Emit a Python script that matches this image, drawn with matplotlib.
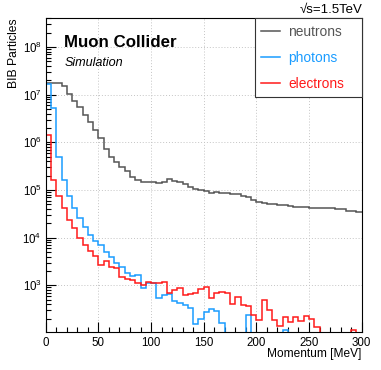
import matplotlib
matplotlib.use("Agg")
import matplotlib.pyplot as plt
from matplotlib.lines import Line2D
from matplotlib.ticker import FixedLocator, LogLocator, MultipleLocator, FuncFormatter, NullFormatter
import numpy as np

plt.rcParams['font.family'] = ['Liberation Sans', 'DejaVu Sans']
plt.rcParams['mathtext.fontset'] = 'custom'
plt.rcParams['mathtext.rm'] = 'Liberation Sans'

# 60 bins of 5 MeV, 0-300 MeV
bin_edges = np.arange(0, 301, 5)

neutrons = [1.74e7, 1.74e7, 1.74e7, 1.49e7, 1.03e7, 7.45e6, 5.5e6, 3.8e6, 2.66e6, 1.77e6,
            1.23e6, 7.3e5, 5.0e5, 3.95e5, 3.0e5, 2.44e5, 1.91e5, 1.63e5, 1.5e5, 1.48e5,
            1.46e5, 1.38e5, 1.5e5, 1.73e5, 1.53e5, 1.46e5, 1.32e5, 1.18e5, 1.05e5, 9.9e4,
            9.4e4, 8.8e4, 9.1e4, 8.8e4, 8.7e4, 8.4e4, 8.3e4, 7.3e4, 7.0e4, 6.1e4,
            5.6e4, 5.4e4, 5.1e4, 5.1e4, 4.9e4, 4.8e4, 4.6e4, 4.4e4, 4.4e4, 4.4e4,
            4.2e4, 4.1e4, 4.1e4, 4.1e4, 4.1e4, 3.9e4, 3.9e4, 3.7e4, 3.7e4, 3.4e4]

photons = [1.69e7, 5.2e6, 4.9e5, 1.61e5, 7.3e4, 4.2e4, 2.53e4, 1.64e4, 1.14e4, 8.3e3,
           6.85e3, 5.0e3, 4.0e3, 3.0e3, 2.37e3, 1.81e3, 1.53e3, 1.64e3, 865, 1100,
           1100, 533, 626, 660, 470, 420, 385, 330, 151, 200,
           280, 310, 285, 159, 0, 0, 0, 0, 238, 0,
           0, 0, 0, 0, 0, 115, 0, 0, 0, 0,
           0, 0, 0, 0, 0, 0, 0, 0, 0, 0]

electrons = [1.39e6, 1.63e5, 7.5e4, 4.2e4, 2.39e4, 1.57e4, 9.7e3, 7.0e3, 5.2e3, 4.1e3,
             2.7e3, 3.16e3, 2.39e3, 2.25e3, 1.46e3, 1.34e3, 1.26e3, 1.12e3, 1.01e3, 1.16e3,
             1.1e3, 1.1e3, 1.17e3, 689, 796, 865, 611, 657, 689, 836,
             920, 533, 700, 735, 680, 405, 577, 385, 359, 238,
             187, 491, 303, 187, 140, 221, 169, 216, 182, 226,
             199, 130, 0, 0, 0, 0, 0, 0, 115, 0]

labels = ['neutrons', 'photons', 'electrons']
colors = ['#555555', '#1a9cff', '#ff1a1a']
y_decades = [1e3, 1e4, 1e5, 1e6, 1e7, 1e8]

fig = plt.figure(figsize=(3.81, 3.70), dpi=100)
ax = fig.add_axes([0.12, 0.1035, 0.8293, 0.847])

for vals, c in zip([neutrons, photons, electrons], colors):
    v = np.asarray(vals, dtype=float)
    v = np.where(v > 0, v, 1e-2)  # empty bins drop below the axis
    ax.stairs(v, bin_edges, baseline=None, color=c, linewidth=1.1)

ax.set_yscale('log')
ax.set_xlim(0, 300)
ax.set_ylim(106, 4e8)

ax.xaxis.set_major_locator(MultipleLocator(50))
ax.xaxis.set_minor_locator(MultipleLocator(10))
ax.yaxis.set_major_locator(FixedLocator(y_decades))
ax.yaxis.set_minor_locator(LogLocator(base=10, subs=np.arange(2, 10), numticks=20))
ax.yaxis.set_major_formatter(FuncFormatter(lambda y, p: r'$10^{%d}$' % round(np.log10(y))))
ax.yaxis.set_minor_formatter(NullFormatter())

ax.tick_params(which='major', direction='in', length=7, width=0.8, labelsize=8.3, pad=4)
ax.tick_params(which='minor', direction='in', length=3.5, width=0.8)
ax.tick_params(axis='y', which='major', pad=3)

ax.grid(True, which='major', linestyle=(0, (1, 2)), color='#c4c4c4', linewidth=0.7)
ax.set_axisbelow(True)
for s in ax.spines.values():
    s.set_linewidth(0.8)

ax.set_xlabel('Momentum [MeV]', fontsize=8.6, loc='right', labelpad=-1)
ax.set_ylabel('BIB Particles', fontsize=8.7, loc='top', labelpad=2)

ax.text(0.058, 0.922, 'Muon Collider', transform=ax.transAxes, fontsize=12.2,
        fontweight='bold', va='center')
ax.text(0.06, 0.858, 'Simulation', transform=ax.transAxes, fontsize=9.1,
        style='italic', va='center')
fig.text(0.951, 0.972, '√s=1.5TeV', fontsize=9.5, ha='right', va='center',
         family=['Liberation Sans', 'DejaVu Sans'])

handles = [Line2D([], [], color=c, linewidth=1.1) for c in colors]
leg = ax.legend(handles, labels, loc='upper right', bbox_to_anchor=(0.662, 0.753, 0.338, 0.247),
                mode='expand', borderaxespad=0, fancybox=False, framealpha=1,
                edgecolor='#333333', fontsize=9.9, handlelength=1.4, handletextpad=0.55,
                labelspacing=0.9, borderpad=0.45, labelcolor='linecolor')
leg.get_frame().set_linewidth(0.8)
leg.get_texts()[0].set_color('#555555')

fig.savefig('out.png', dpi=100)
